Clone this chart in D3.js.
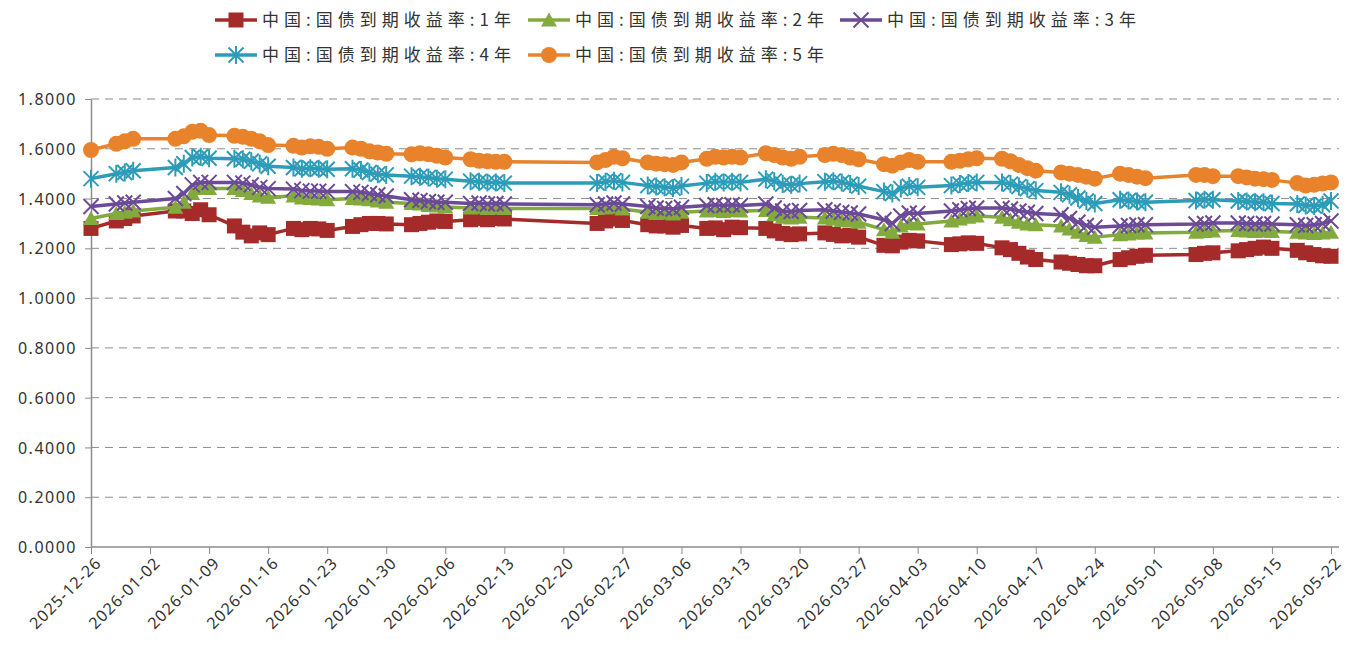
<!DOCTYPE html>
<html>
<head>
<meta charset="utf-8">
<script src="https://cdn.jsdelivr.net/npm/d3@7"></script>
<style>
  body { margin: 0; background: #fff; }
  svg { display: block; }
  text { font-family: "Noto Sans CJK SC", "Noto Sans", sans-serif; fill: #333; }
</style>
</head>
<body>
<svg id="chart" width="1346" height="652"></svg>
<script>

// trading days (China interbank), Dec 2025 - May 2026
var dates = [
  "2025-12-26", "2025-12-29", "2025-12-30", "2025-12-31",
  "2026-01-05", "2026-01-06", "2026-01-07", "2026-01-08", "2026-01-09",
  "2026-01-12", "2026-01-13", "2026-01-14", "2026-01-15", "2026-01-16",
  "2026-01-19", "2026-01-20", "2026-01-21", "2026-01-22", "2026-01-23",
  "2026-01-26", "2026-01-27", "2026-01-28", "2026-01-29", "2026-01-30",
  "2026-02-02", "2026-02-03", "2026-02-04", "2026-02-05", "2026-02-06",
  "2026-02-09", "2026-02-10", "2026-02-11", "2026-02-12", "2026-02-13",
  "2026-02-24", "2026-02-25", "2026-02-26", "2026-02-27",
  "2026-03-02", "2026-03-03", "2026-03-04", "2026-03-05", "2026-03-06",
  "2026-03-09", "2026-03-10", "2026-03-11", "2026-03-12", "2026-03-13",
  "2026-03-16", "2026-03-17", "2026-03-18", "2026-03-19", "2026-03-20",
  "2026-03-23", "2026-03-24", "2026-03-25", "2026-03-26", "2026-03-27",
  "2026-03-30", "2026-03-31", "2026-04-01", "2026-04-02", "2026-04-03",
  "2026-04-07", "2026-04-08", "2026-04-09", "2026-04-10",
  "2026-04-13", "2026-04-14", "2026-04-15", "2026-04-16", "2026-04-17",
  "2026-04-20", "2026-04-21", "2026-04-22", "2026-04-23", "2026-04-24",
  "2026-04-27", "2026-04-28", "2026-04-29", "2026-04-30",
  "2026-05-06", "2026-05-07", "2026-05-08",
  "2026-05-11", "2026-05-12", "2026-05-13", "2026-05-14", "2026-05-15",
  "2026-05-18", "2026-05-19", "2026-05-20", "2026-05-21", "2026-05-22"
]

var y1 = [
  1.280, 1.310, 1.320, 1.330,
  1.350, 1.350, 1.340, 1.355, 1.335,
  1.290, 1.265, 1.250, 1.262, 1.255,
  1.280, 1.275, 1.280, 1.278, 1.272,
  1.288, 1.295, 1.300, 1.300, 1.298,
  1.295, 1.300, 1.305, 1.310, 1.308,
  1.315, 1.320, 1.315, 1.320, 1.318,
  1.300, 1.310, 1.318, 1.312,
  1.295, 1.290, 1.290, 1.285, 1.292,
  1.280, 1.282, 1.275, 1.285, 1.283,
  1.280, 1.270, 1.260, 1.255, 1.258,
  1.262, 1.256, 1.250, 1.252, 1.245,
  1.212, 1.210, 1.225, 1.232, 1.230,
  1.215, 1.218, 1.222, 1.220,
  1.202, 1.195, 1.180, 1.165, 1.155,
  1.145, 1.140, 1.135, 1.130, 1.130,
  1.155, 1.162, 1.168, 1.172,
  1.175, 1.180, 1.182,
  1.190, 1.195, 1.200, 1.205, 1.200,
  1.192, 1.182, 1.175, 1.170, 1.168
]

var y2 = [
  1.320, 1.340, 1.345, 1.350,
  1.365, 1.385, 1.420, 1.440, 1.440,
  1.440, 1.432, 1.420, 1.410, 1.405,
  1.410, 1.402, 1.400, 1.398, 1.395,
  1.400, 1.398, 1.395, 1.390, 1.385,
  1.380, 1.378, 1.372, 1.370, 1.366,
  1.362, 1.365, 1.360, 1.362, 1.360,
  1.360, 1.362, 1.365, 1.358,
  1.345, 1.340, 1.342, 1.338, 1.345,
  1.350, 1.352, 1.348, 1.352, 1.350,
  1.352, 1.335, 1.325, 1.322, 1.325,
  1.322, 1.318, 1.312, 1.310, 1.305,
  1.275, 1.265, 1.290, 1.300, 1.298,
  1.310, 1.318, 1.325, 1.330,
  1.325, 1.315, 1.305, 1.298, 1.295,
  1.290, 1.278, 1.265, 1.252, 1.245,
  1.255, 1.258, 1.262, 1.262,
  1.265, 1.268, 1.270,
  1.272, 1.270, 1.268, 1.270, 1.268,
  1.265, 1.262, 1.260, 1.262, 1.265
]

var y3 = [
  1.368, 1.378, 1.382, 1.385,
  1.400, 1.420, 1.455, 1.465, 1.465,
  1.465, 1.462, 1.455, 1.445, 1.440,
  1.438, 1.432, 1.430, 1.430, 1.428,
  1.428, 1.425, 1.420, 1.415, 1.410,
  1.395, 1.392, 1.388, 1.385, 1.385,
  1.380, 1.382, 1.378, 1.380, 1.378,
  1.375, 1.378, 1.382, 1.378,
  1.368, 1.362, 1.360, 1.358, 1.365,
  1.372, 1.375, 1.372, 1.375, 1.372,
  1.378, 1.362, 1.350, 1.348, 1.352,
  1.355, 1.350, 1.345, 1.342, 1.338,
  1.315, 1.300, 1.330, 1.342, 1.340,
  1.350, 1.355, 1.360, 1.362,
  1.362, 1.358, 1.350, 1.345, 1.340,
  1.335, 1.320, 1.305, 1.292, 1.285,
  1.290, 1.292, 1.295, 1.295,
  1.298, 1.300, 1.302,
  1.302, 1.300, 1.298, 1.300, 1.298,
  1.295, 1.292, 1.295, 1.300, 1.310
]

var y4 = [
  1.480, 1.500, 1.505, 1.512,
  1.525, 1.540, 1.565, 1.568, 1.562,
  1.560, 1.558, 1.550, 1.540, 1.530,
  1.525, 1.520, 1.522, 1.520, 1.518,
  1.520, 1.515, 1.505, 1.498, 1.495,
  1.490, 1.488, 1.485, 1.480, 1.478,
  1.470, 1.468, 1.465, 1.465, 1.462,
  1.462, 1.468, 1.472, 1.465,
  1.452, 1.448, 1.445, 1.442, 1.450,
  1.462, 1.468, 1.465, 1.468, 1.465,
  1.478, 1.470, 1.458, 1.455, 1.460,
  1.468, 1.470, 1.465, 1.458, 1.450,
  1.428, 1.420, 1.440, 1.450, 1.445,
  1.452, 1.458, 1.462, 1.465,
  1.465, 1.458, 1.448, 1.440, 1.432,
  1.425, 1.415, 1.402, 1.390, 1.380,
  1.395, 1.392, 1.388, 1.385,
  1.392, 1.395, 1.395,
  1.390, 1.388, 1.385, 1.385, 1.380,
  1.378, 1.372, 1.370, 1.375, 1.390
]

var y5 = [
  1.595, 1.620, 1.630, 1.640,
  1.640, 1.650, 1.668, 1.672, 1.655,
  1.652, 1.648, 1.640, 1.630, 1.615,
  1.612, 1.605, 1.610, 1.608, 1.600,
  1.605, 1.600, 1.590, 1.585, 1.580,
  1.578, 1.582, 1.578, 1.572, 1.565,
  1.558, 1.552, 1.550, 1.548, 1.548,
  1.545, 1.555, 1.568, 1.562,
  1.545, 1.540, 1.538, 1.535, 1.545,
  1.560, 1.568, 1.565, 1.568, 1.565,
  1.582, 1.575, 1.565, 1.560, 1.568,
  1.575, 1.580, 1.575, 1.565, 1.558,
  1.538, 1.532, 1.545, 1.555, 1.548,
  1.548, 1.552, 1.558, 1.562,
  1.560, 1.550, 1.535, 1.522, 1.512,
  1.505, 1.500, 1.495, 1.488, 1.480,
  1.500, 1.495, 1.488, 1.482,
  1.495, 1.495, 1.490,
  1.490, 1.485, 1.480, 1.478, 1.475,
  1.462, 1.452, 1.455, 1.460, 1.465
]

var seriesNames = [
  "中国:国债到期收益率:1年", "中国:国债到期收益率:2年", "中国:国债到期收益率:3年",
  "中国:国债到期收益率:4年", "中国:国债到期收益率:5年"
]
var seriesColors = ["#A52B2B", "#82AA3C", "#6C4A98", "#2C9CB8", "#E8832C"]
var seriesShapes = ["square", "triangle", "cross", "star", "circle"]
var seriesValues = [y1, y2, y3, y4, y5]

var yTicks = [0, 0.2, 0.4, 0.6, 0.8, 1.0, 1.2, 1.4, 1.6, 1.8]

var parse = d3.timeParse("%Y-%m-%d")
var fmtDay = d3.timeFormat("%Y-%m-%d")

var svg = d3.select("#chart")

var plot = { left: 91, right: 1331, top: 99, bottom: 547 }

var x = d3.scaleTime()
  .domain([parse(dates[0]), parse(dates[dates.length - 1])])
  .range([plot.left, plot.right])

var y = d3.scaleLinear()
  .domain([0, 1.8])
  .range([plot.bottom, plot.top])

// gridlines (dashed)
svg.append("g")
  .selectAll("line")
  .data(yTicks.filter(function (d) { return d > 0 }))
  .enter()
  .append("line")
  .attr("x1", plot.left)
  .attr("x2", 1339)
  .attr("y1", function (d) { return y(d) })
  .attr("y2", function (d) { return y(d) })
  .attr("stroke", "#8c8c8c")
  .attr("stroke-width", 1)
  .attr("stroke-dasharray", "8,6")

// y axis
var yAxis = d3.axisLeft(y)
  .tickValues(yTicks)
  .tickFormat(d3.format(".4f"))
  .tickSize(6)
  .tickSizeOuter(0)

var gy = svg.append("g")
  .attr("transform", "translate(" + plot.left + ",0)")
  .call(yAxis)
gy.select(".domain").attr("stroke", "#8c8c8c").attr("stroke-width", 1.5)
gy.selectAll(".tick line").attr("stroke", "#8c8c8c")
gy.selectAll(".tick text")
  .attr("x", -14)
  .attr("dy", "0.35em")
  .style("font-size", "16px")
  .style("letter-spacing", "1.5px")
  .style("font-family", "'Noto Sans', sans-serif")
  .attr("fill", "#333")

// x axis, one tick a week
var weekTicks = d3.timeDay.range(parse(dates[0]), d3.timeDay.offset(parse(dates[dates.length - 1]), 1), 7)

var xAxis = d3.axisBottom(x)
  .tickValues(weekTicks)
  .tickFormat(fmtDay)
  .tickSize(7)
  .tickSizeOuter(0)

var gx = svg.append("g")
  .attr("transform", "translate(0," + plot.bottom + ")")
  .call(xAxis)
gx.select(".domain").attr("d", "M" + plot.left + ",0H1339").attr("stroke", "#8c8c8c").attr("stroke-width", 1.5)
gx.selectAll(".tick line").attr("stroke", "#8c8c8c")
gx.selectAll(".tick text")
  .attr("transform", "translate(7,13) rotate(-45)")
  .attr("x", 0)
  .attr("y", 0)
  .attr("dy", "0.35em")
  .style("text-anchor", "end")
  .style("font-size", "16px")
  .style("letter-spacing", "1px")
  .style("font-family", "'Noto Sans', sans-serif")
  .attr("fill", "#333")

// marker drawing
function drawMarker(g, shape, color) {
  if (shape == "square") {
    g.append("rect").attr("x", -7.5).attr("y", -7.5).attr("width", 15).attr("height", 15).attr("fill", color)
  } else if (shape == "triangle") {
    g.append("path").attr("d", "M0,-7.5L8,6.5L-8,6.5Z").attr("fill", color)
  } else if (shape == "circle") {
    g.append("circle").attr("r", 8).attr("fill", color)
  } else if (shape == "cross") {
    g.append("path").attr("d", "M-7.5,-7.5L7.5,7.5M-7.5,7.5L7.5,-7.5").attr("stroke", color).attr("stroke-width", 2).attr("fill", "none")
  } else if (shape == "star") {
    g.append("path").attr("d", "M-7.5,-7.5L7.5,7.5M-7.5,7.5L7.5,-7.5M0,-9L0,9").attr("stroke", color).attr("stroke-width", 2).attr("fill", "none")
  }
}

var line = d3.line()
  .x(function (d) { return x(d.date) })
  .y(function (d) { return y(d.value) })

seriesValues.forEach(function (vals, i) {
  var data = vals.map(function (v, j) { return { date: parse(dates[j]), value: v } })
  var g = svg.append("g").attr("class", "series")

  g.append("path")
    .datum(data)
    .attr("d", line)
    .attr("fill", "none")
    .attr("stroke", seriesColors[i])
    .attr("stroke-width", 3.5)
    .attr("stroke-linejoin", "round")

  g.selectAll(".mk")
    .data(data)
    .enter()
    .append("g")
    .attr("class", "mk")
    .attr("transform", function (d) { return "translate(" + x(d.date) + "," + y(d.value) + ")" })
    .each(function () { drawMarker(d3.select(this), seriesShapes[i], seriesColors[i]) })
})

// legend, 3 per row
var legendPos = [[215, 20], [528, 20], [840, 20], [215, 55], [528, 55]]

var legend = svg.append("g").attr("class", "legend")
seriesNames.forEach(function (name, i) {
  var lg = legend.append("g")
    .attr("transform", "translate(" + legendPos[i][0] + "," + legendPos[i][1] + ")")
  lg.append("line")
    .attr("x1", 0).attr("x2", 42)
    .attr("y1", 0).attr("y2", 0)
    .attr("stroke", seriesColors[i])
    .attr("stroke-width", 3.5)
  drawMarker(lg.append("g").attr("transform", "translate(21,0)"), seriesShapes[i], seriesColors[i])
  lg.append("text")
    .attr("x", 47)
    .attr("y", 0)
    .attr("dy", "0.36em")
    .style("font-size", "17px")
    .style("letter-spacing", "5px")
    .text(name)
})

</script>
</body>
</html>
